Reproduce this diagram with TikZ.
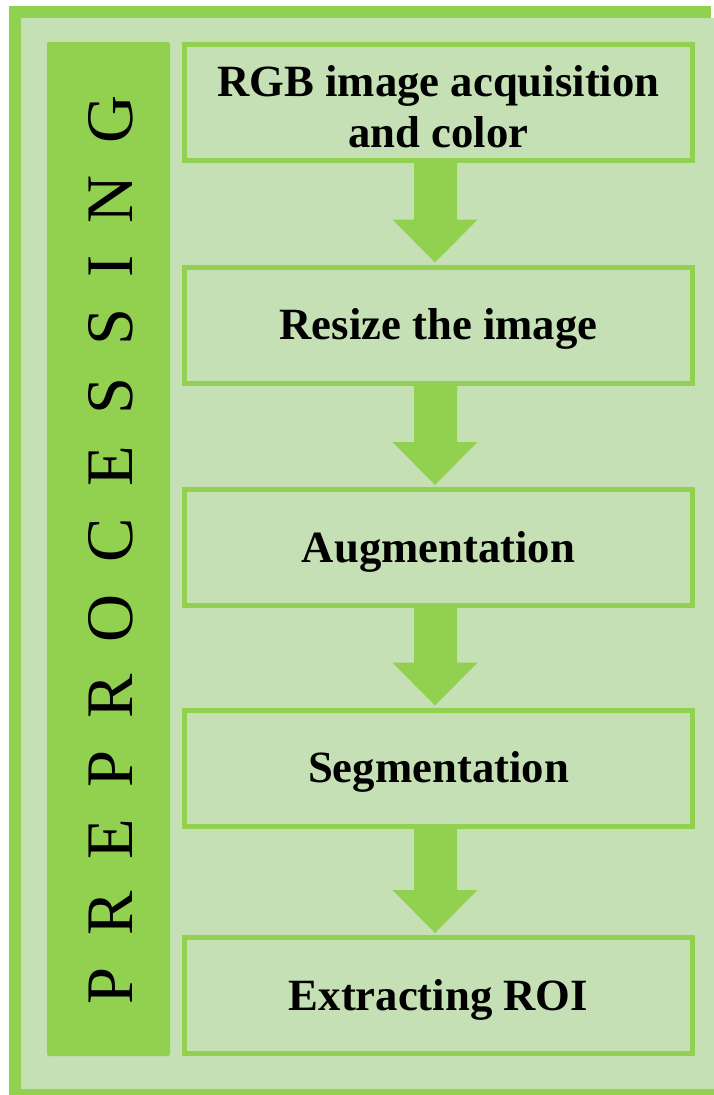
\documentclass[tikz,border=0pt]{standalone}
\usepackage{fontspec}
\setmainfont{Liberation Serif}
\usetikzlibrary{calc}
\definecolor{frameg}{HTML}{92D050}
\definecolor{lightg}{HTML}{C5E0B4}
\newcommand\lsp{\hspace{31.7pt}}
\newcommand\flowarrow[2]{%
  \fill[frameg] let \p1=(#1.south), \p2=(#2.north) in
    (\x1-24.5pt,\y1) -- (\x1-24.5pt,\y2+45pt) -- (\x1-46pt,\y2+45pt) --
    (\x1-3.5pt,\y2+2pt) -- (\x1+39pt,\y2+45pt) -- (\x1+18.5pt,\y2+45pt) --
    (\x1+18.5pt,\y1) -- cycle;}
\tikzset{
  stepbox/.style={draw=frameg, line width=5pt, fill=lightg,
    minimum width=508pt, minimum height=116pt, inner sep=0pt,
    font=\fontsize{44.7}{51}\selectfont\bfseries,
    text height=29.6pt, text depth=0pt},
  boxtext/.style={inner sep=0pt, font=\fontsize{44.7}{51}\selectfont\bfseries},
  sidepanel/.style={fill=frameg, rounded corners=2pt, minimum width=123pt,
    minimum height=1014pt, inner sep=0pt, outer sep=0pt},
  sidetext/.style={rotate=90, anchor=base, inner sep=0pt,
    font=\fontsize{66.5}{70}\selectfont}
}
\begin{document}
\begin{tikzpicture}[x=1pt,y=1pt]
\useasboundingbox (0,0) rectangle (714,-1095);
\clip (0,0) rectangle (714,-1095);
\fill[white] (0,0) rectangle (714,-1095);
\fill[frameg] (9,-6) rectangle (711,-18);
\fill[frameg] (9,-6) rectangle (21,-1095);
\fill[frameg] (9,-1089) rectangle (714,-1095);
\fill[lightg] (21,-18) rectangle (714,-1089);

\node[sidepanel] (side) at (108.5,-549) {};
\node[sidetext] (sidelabel) at (132,-550)
  {P\lsp R\lsp E\lsp P\lsp R\lsp O\lsp C\lsp E\lsp S\lsp S\lsp I\lsp N\lsp G};

\node[stepbox] (b1) at (438.5,-102.5) {};
\node[boxtext, align=center] (t1) at ($(b1.center)+(0,-4.3)$)
  {RGB image acquisition\\and color};
\node[stepbox] (b2) at (438.5,-325) {Resize the image};
\node[stepbox] (b3) at (438.5,-547.5) {Augmentation};
\node[stepbox] (b4) at (438.5,-768) {Segmentation};
\node[stepbox] (b5) at (438.5,-995.5) {Extracting ROI};

\flowarrow{b1}{b2}
\flowarrow{b2}{b3}
\flowarrow{b3}{b4}
\flowarrow{b4}{b5}
\end{tikzpicture}
\end{document}
